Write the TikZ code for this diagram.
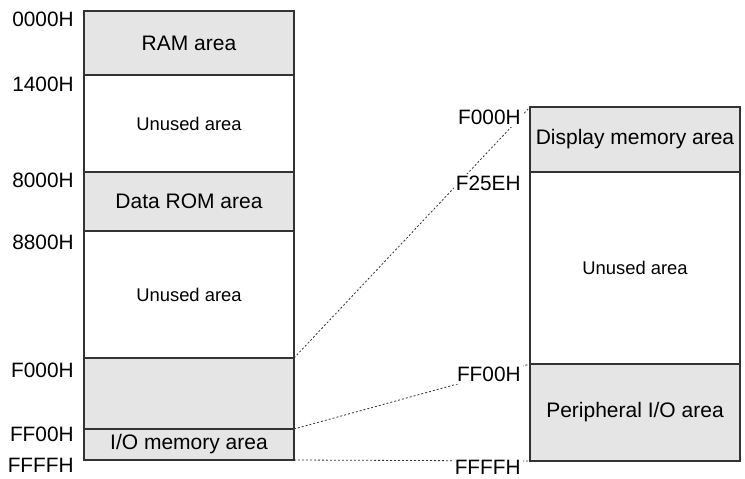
\documentclass[tikz,border=0pt]{standalone}
\usepackage{fontspec}
\setmainfont{Liberation Sans}
\usetikzlibrary{positioning, calc}

\begin{document}
\begin{tikzpicture}[x=0.5pt,y=-0.5pt,
	region/.style={draw=black!80, line width=0.7pt, outer sep=0pt, inner sep=0pt, minimum width=105pt, font=\fontsize{10.5}{12}\selectfont},
	used/.style={region, fill=black!10},
	unused/.style={region, fill=white, font=\fontsize{9.2}{11}\selectfont},
	addr/.style={fill=white, inner sep=1pt, font=\fontsize{10.4}{12}\selectfont},
	link/.style={draw=black!80, line width=0.4pt, dash pattern=on 1pt off 1pt}]

\useasboundingbox (0,0) rectangle (745,478);

% left memory map
\node[used, minimum height=32pt, anchor=north west] (ram) at (84,11) {RAM area};
\node[unused, minimum height=48.5pt, below=0pt of ram] (freeA) {Unused area};
\node[used, minimum height=29.5pt, below=0pt of freeA] (datarom) {Data ROM area};
\node[unused, minimum height=63.5pt, below=0pt of datarom] (freeB) {Unused area};
\node[used, minimum height=35.5pt, below=0pt of freeB] (window) {};
\node[used, minimum height=15.5pt, below=0pt of window] (iomem) {I/O memory area};

% right memory map (expanded F000H-FFFFH)
\node[used, minimum height=32.5pt, anchor=north west] (dispmem) at (530,107) {Display memory area};
\node[unused, minimum height=96pt, below=0pt of dispmem] (freeC) {Unused area};
\node[used, minimum height=48.5pt, below=0pt of freeC] (periio) {Peripheral I/O area};

% dotted links between the two maps
\draw[link] (window.north east) -- (dispmem.north west);
\draw[link] (iomem.north east) -- (periio.north west);
\draw[link] (iomem.south east) -- (periio.south west);

% address labels, left map
\foreach \reg/\txt/\dy in {ram/0000H/-1, freeA/1400H/0, datarom/8000H/-1, freeB/8800H/2, window/F000H/3, iomem/FF00H/-4}
	\node[addr, anchor=north east] (l-\reg) at ($(\reg.north west)+(-8,\dy)$) {\txt};
\node[addr, anchor=north east] (l-end) at ($(iomem.south west)+(-8,-4)$) {FFFFH};

% address labels, right map
\foreach \reg/\txt/\dy in {dispmem/F000H/1, freeC/F25EH/2, periio/FF00H/1}
	\node[addr, anchor=north east] (r-\reg) at ($(\reg.north west)+(-7,\dy)$) {\txt};
\node[addr, anchor=north east] (r-end) at ($(periio.south west)+(-7,-3)$) {FFFFH};

\end{tikzpicture}
\end{document}
